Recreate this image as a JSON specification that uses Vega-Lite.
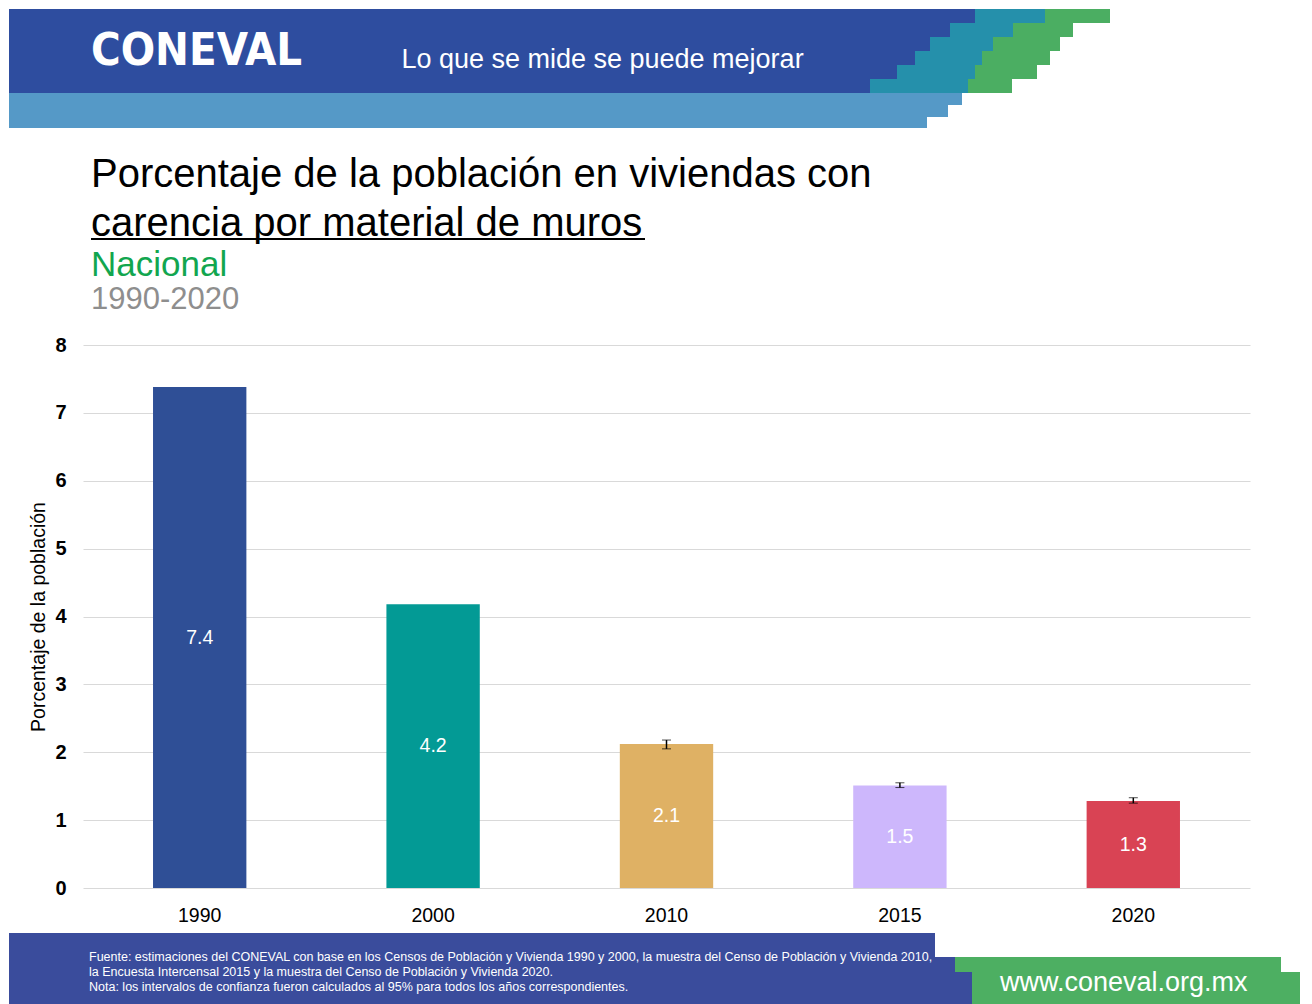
{
  "$schema": "https://vega.github.io/schema/vega-lite/v6.json",
  "background": "white",
  "padding": {"left": 9, "top": 9, "right": 0, "bottom": 0},
  "autosize": {"type": "pad"},
  "bounds": "flush",
  "spacing": 0,
  "config": {
    "view": {"stroke": null},
    "concat": {"spacing": 0},
    "title": {"baseline": "alphabetic"}
  },
  "vconcat": [
    {
      "bounds": "flush", "spacing": 0,
      "hconcat": [
        {
          "width": 375, "height": 84,
          "view": {"fill": "#2E4D9F", "stroke": null},
          "data": {"values": [{"t": "CONEVAL"}]},
          "mark": {"type": "text", "font": "DejaVu Sans Condensed", "fontWeight": "bold", "fontSize": 45, "color": "white", "baseline": "middle"},
          "encoding": {"text": {"field": "t"}}
        },
        {
          "width": 437, "height": 84,
          "view": {"fill": "#2E4D9F", "stroke": null},
          "data": {"values": [{"t": "Lo que se mide se puede mejorar"}]},
          "mark": {"type": "text", "font": "Liberation Sans", "fontSize": 27, "color": "white", "baseline": "middle", "dy": 9},
          "encoding": {"text": {"field": "t"}}
        }
      ]
    },
    {
      "bounds": "flush", "spacing": 0,
      "hconcat": [
        {"width": 812, "height": 14, "data": {"values": [{}]}, "mark": {"type": "text", "text": ""}},
        {"width": 154, "height": 14, "view": {"fill": "#2E4D9F", "stroke": null}, "data": {"values": [{}]}, "mark": {"type": "text", "text": ""}},
        {"width": 70, "height": 14, "view": {"fill": "#2590AB", "stroke": null}, "data": {"values": [{}]}, "mark": {"type": "text", "text": ""}},
        {"width": 65, "height": 14, "view": {"fill": "#4BAE62", "stroke": null}, "data": {"values": [{}]}, "mark": {"type": "text", "text": ""}}
      ]
    },
    {"width": 10, "height": 14, "data": {"values": [{}]}, "mark": {"type": "text", "text": ""}},
    {
      "bounds": "flush", "spacing": 0,
      "hconcat": [
        {"width": 812, "height": 14, "data": {"values": [{}]}, "mark": {"type": "text", "text": ""}},
        {"width": 129, "height": 14, "view": {"fill": "#2E4D9F", "stroke": null}, "data": {"values": [{}]}, "mark": {"type": "text", "text": ""}},
        {"width": 63, "height": 14, "view": {"fill": "#2590AB", "stroke": null}, "data": {"values": [{}]}, "mark": {"type": "text", "text": ""}},
        {"width": 60, "height": 14, "view": {"fill": "#4BAE62", "stroke": null}, "data": {"values": [{}]}, "mark": {"type": "text", "text": ""}}
      ]
    },
    {"width": 10, "height": 14, "data": {"values": [{}]}, "mark": {"type": "text", "text": ""}},
    {
      "bounds": "flush", "spacing": 0,
      "hconcat": [
        {"width": 812, "height": 14, "data": {"values": [{}]}, "mark": {"type": "text", "text": ""}},
        {"width": 109, "height": 14, "view": {"fill": "#2E4D9F", "stroke": null}, "data": {"values": [{}]}, "mark": {"type": "text", "text": ""}},
        {"width": 63, "height": 14, "view": {"fill": "#2590AB", "stroke": null}, "data": {"values": [{}]}, "mark": {"type": "text", "text": ""}},
        {"width": 67, "height": 14, "view": {"fill": "#4BAE62", "stroke": null}, "data": {"values": [{}]}, "mark": {"type": "text", "text": ""}}
      ]
    },
    {"width": 10, "height": 14, "data": {"values": [{}]}, "mark": {"type": "text", "text": ""}},
    {
      "bounds": "flush", "spacing": 0,
      "hconcat": [
        {"width": 812, "height": 14, "data": {"values": [{}]}, "mark": {"type": "text", "text": ""}},
        {"width": 94, "height": 14, "view": {"fill": "#2E4D9F", "stroke": null}, "data": {"values": [{}]}, "mark": {"type": "text", "text": ""}},
        {"width": 67, "height": 14, "view": {"fill": "#2590AB", "stroke": null}, "data": {"values": [{}]}, "mark": {"type": "text", "text": ""}},
        {"width": 68, "height": 14, "view": {"fill": "#4BAE62", "stroke": null}, "data": {"values": [{}]}, "mark": {"type": "text", "text": ""}}
      ]
    },
    {"width": 10, "height": 14, "data": {"values": [{}]}, "mark": {"type": "text", "text": ""}},
    {
      "bounds": "flush", "spacing": 0,
      "hconcat": [
        {"width": 812, "height": 14, "data": {"values": [{}]}, "mark": {"type": "text", "text": ""}},
        {"width": 76, "height": 14, "view": {"fill": "#2E4D9F", "stroke": null}, "data": {"values": [{}]}, "mark": {"type": "text", "text": ""}},
        {"width": 78, "height": 14, "view": {"fill": "#2590AB", "stroke": null}, "data": {"values": [{}]}, "mark": {"type": "text", "text": ""}},
        {"width": 62, "height": 14, "view": {"fill": "#4BAE62", "stroke": null}, "data": {"values": [{}]}, "mark": {"type": "text", "text": ""}}
      ]
    },
    {"width": 10, "height": 14, "data": {"values": [{}]}, "mark": {"type": "text", "text": ""}},
    {
      "bounds": "flush", "spacing": 0,
      "hconcat": [
        {"width": 812, "height": 14, "data": {"values": [{}]}, "mark": {"type": "text", "text": ""}},
        {"width": 49, "height": 14, "view": {"fill": "#2E4D9F", "stroke": null}, "data": {"values": [{}]}, "mark": {"type": "text", "text": ""}},
        {"width": 98, "height": 14, "view": {"fill": "#2590AB", "stroke": null}, "data": {"values": [{}]}, "mark": {"type": "text", "text": ""}},
        {"width": 44, "height": 14, "view": {"fill": "#4BAE62", "stroke": null}, "data": {"values": [{}]}, "mark": {"type": "text", "text": ""}}
      ]
    },
    {"width": 10, "height": 14, "data": {"values": [{}]}, "mark": {"type": "text", "text": ""}},
    {"width": 953, "height": 12, "view": {"fill": "#5599C7", "stroke": null}, "data": {"values": [{}]}, "mark": {"type": "text", "text": ""}},
    {"width": 939, "height": 12, "view": {"fill": "#5599C7", "stroke": null}, "data": {"values": [{}]}, "mark": {"type": "text", "text": ""}},
    {"width": 918, "height": 11, "view": {"fill": "#5599C7", "stroke": null}, "data": {"values": [{}]}, "mark": {"type": "text", "text": ""}},
    {
      "width": 1000, "height": 110,
      "data": {"values": [{}]},
      "mark": {"type": "text", "text": ""},
      "title": {
        "text": ["Porcentaje de la población en viviendas con", "carencia por material de muros"],
        "orient": "top", "anchor": "start", "frame": "group",
        "offset": -148, "dx": 82,
        "font": "Liberation Sans",
        "fontSize": 40, "fontWeight": "normal", "color": "black", "lineHeight": 49,
        "baseline": "alphabetic"
      }
    },
    {
      "bounds": "flush", "spacing": 0,
      "hconcat": [
        {"width": 82, "height": 2, "data": {"values": [{}]}, "mark": {"type": "text", "text": ""}},
        {"width": 554, "height": 2, "view": {"fill": "black", "stroke": null}, "data": {"values": [{}]}, "mark": {"type": "text", "text": ""}}
      ]
    },
    {"width": 10, "height": 2, "data": {"values": [{}]}, "mark": {"type": "text", "text": ""}},
    {
      "width": 1000, "height": 105,
      "data": {"values": [{}]},
      "mark": {"type": "text", "text": ""},
      "title": {
        "text": "Nacional",
        "subtitle": "1990-2020",
        "orient": "top", "anchor": "start", "frame": "group",
        "offset": -103, "dx": 82,
        "font": "Liberation Sans",
        "fontSize": 35, "fontWeight": "normal", "color": "#12A64F",
        "subtitleFont": "Liberation Sans",
        "subtitleFontSize": 31, "subtitleColor": "#8E8E8E", "subtitlePadding": -2,
        "baseline": "alphabetic"
      }
    },
    {
      "bounds": "flush", "spacing": 0,
      "hconcat": [
        {"width": 74, "height": 543, "data": {"values": [{}]}, "mark": {"type": "text", "text": ""}},
        {
          "width": 1167, "height": 543,
          "data": {"values": [
            {"year": "1990", "value": 7.38, "low": null, "high": null},
            {"year": "2000", "value": 4.18, "low": null, "high": null},
            {"year": "2010", "value": 2.12, "low": 2.05, "high": 2.18},
            {"year": "2015", "value": 1.51, "low": 1.48, "high": 1.55},
            {"year": "2020", "value": 1.28, "low": 1.25, "high": 1.33}
          ]},
          "encoding": {
            "x": {
              "field": "year", "type": "nominal", "title": null,
              "scale": {"paddingInner": 0.6, "paddingOuter": 0.3},
              "axis": {"labelAngle": 0, "labelFont": "Liberation Sans", "labelFontSize": 19.5, "labelColor": "black", "labelPadding": 18, "domain": false, "ticks": false, "grid": false}
            }
          },
          "layer": [
            {
              "mark": {"type": "bar"},
              "encoding": {
                "y": {
                  "field": "value", "type": "quantitative", "title": "Porcentaje de la población",
                  "scale": {"domain": [0, 8]},
                  "axis": {"values": [0, 1, 2, 3, 4, 5, 6, 7, 8], "format": "d", "labelFont": "Liberation Sans", "labelFontSize": 20, "labelFontWeight": "bold", "labelColor": "black", "labelPadding": 17, "titleFont": "Liberation Sans", "titleFontSize": 19.5, "titleFontWeight": "normal", "titleColor": "black", "titlePadding": 6, "domain": false, "ticks": false, "gridColor": "#D9D9D9", "gridWidth": 1.2}
                },
                "color": {
                  "field": "year", "type": "nominal", "legend": null,
                  "scale": {"domain": ["1990", "2000", "2010", "2015", "2020"], "range": ["#2F4F96", "#039A95", "#DFB164", "#CDB7FC", "#D94354"]}
                }
              }
            },
            {
              "transform": [{"filter": "isValid(datum.low)"}],
              "mark": {"type": "errorbar", "color": "black", "ticks": {"size": 9, "strokeWidth": 1.5, "color": "black"}, "rule": {"strokeWidth": 1.5, "color": "black"}},
              "encoding": {
                "y": {"field": "low", "type": "quantitative", "title": "Porcentaje de la población"},
                "y2": {"field": "high"}
              }
            },
            {
              "transform": [{"calculate": "datum.value / 2", "as": "mid"}],
              "mark": {"type": "text", "color": "white", "font": "Liberation Sans", "fontSize": 19.5, "baseline": "middle"},
              "encoding": {
                "y": {"field": "mid", "type": "quantitative", "title": "Porcentaje de la población"},
                "text": {"field": "value", "type": "quantitative", "format": ".1f"}
              }
            }
          ]
        }
      ]
    },
    {"width": 10, "height": 543, "data": {"values": [{}]}, "mark": {"type": "text", "text": ""}},
    {"width": 10, "height": 45, "data": {"values": [{}]}, "mark": {"type": "text", "text": ""}},
    {"width": 926, "height": 24, "view": {"fill": "#3A4C9C", "stroke": null}, "data": {"values": [{}]}, "mark": {"type": "text", "text": ""}},
    {
      "bounds": "flush", "spacing": 0,
      "hconcat": [
        {"width": 946, "height": 15, "view": {"fill": "#3A4C9C", "stroke": null}, "data": {"values": [{}]}, "mark": {"type": "text", "text": ""}},
        {"width": 326, "height": 15, "view": {"fill": "#4DAF62", "stroke": null}, "data": {"values": [{}]}, "mark": {"type": "text", "text": ""}}
      ]
    },
    {"width": 10, "height": 15, "data": {"values": [{}]}, "mark": {"type": "text", "text": ""}},
    {
      "bounds": "flush", "spacing": 0,
      "hconcat": [
        {
          "width": 963, "height": 32,
          "view": {"fill": "#3A4C9C", "stroke": null},
          "data": {"values": [{}]},
          "mark": {"type": "text", "text": ""},
          "title": {
            "text": [
              "Fuente: estimaciones del CONEVAL con base en los Censos de Población y Vivienda 1990 y 2000, la muestra del Censo de Población y Vivienda 2010,",
              "la Encuesta Intercensal 2015 y la muestra del Censo de Población y Vivienda 2020.",
              "Nota: los intervalos de confianza fueron calculados al 95% para todos los años correspondientes."
            ],
            "orient": "top", "anchor": "start", "frame": "group",
            "offset": -31, "dx": 80,
            "font": "Liberation Sans", "fontSize": 12.5, "fontWeight": "normal", "color": "white", "lineHeight": 15,
            "baseline": "alphabetic"
          }
        },
        {
          "width": 328, "height": 32,
          "view": {"fill": "#4DAF62", "stroke": null},
          "data": {"values": [{}]},
          "mark": {"type": "text", "text": ""},
          "title": {
            "text": "www.coneval.org.mx",
            "orient": "top", "anchor": "start", "frame": "group",
            "offset": -46, "dx": 28,
            "font": "Liberation Sans", "fontSize": 27, "fontWeight": "normal", "color": "white",
            "baseline": "alphabetic"
          }
        }
      ]
    }
  ]
}
